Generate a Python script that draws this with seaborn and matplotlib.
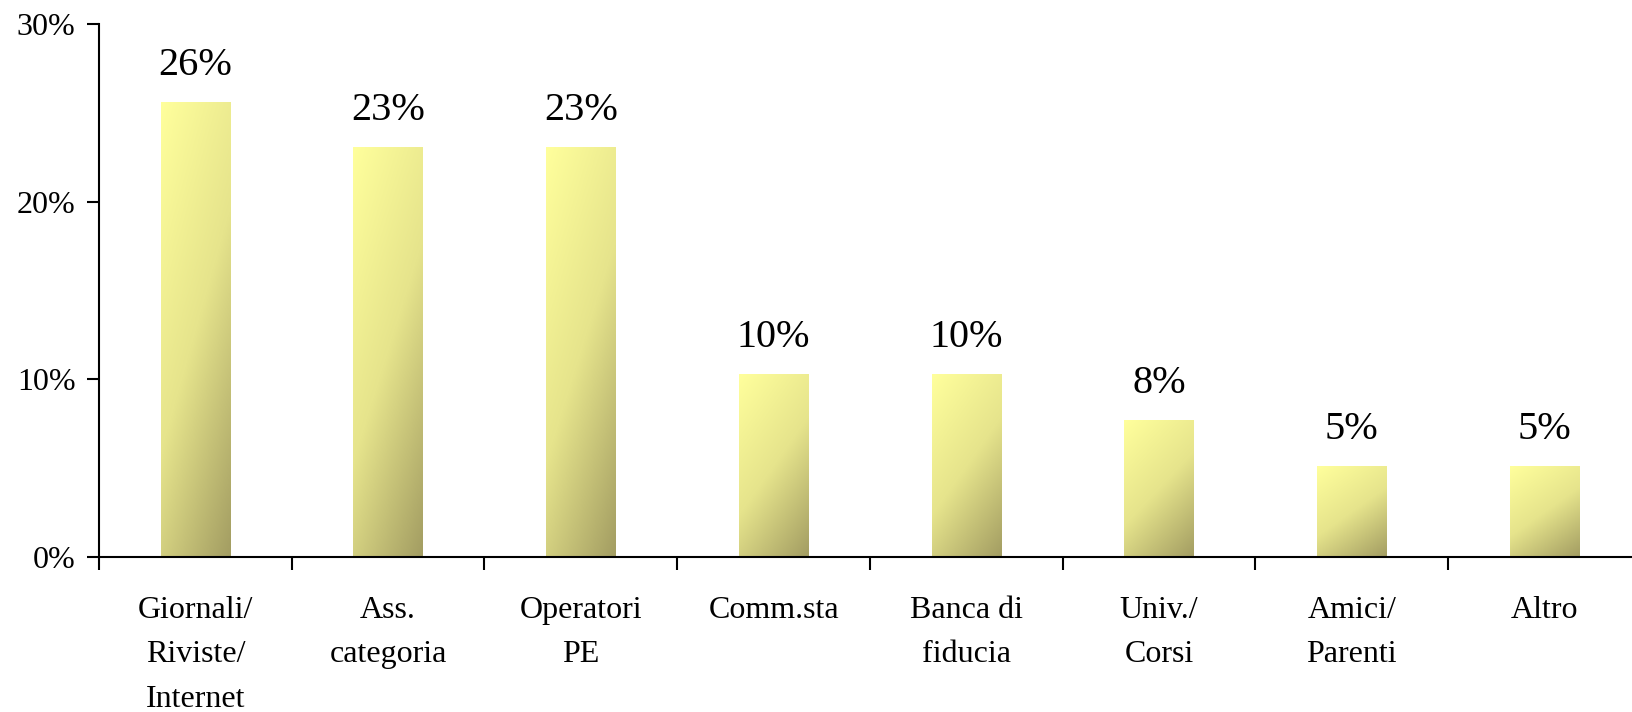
import numpy as np
import pandas as pd
import seaborn as sns
import matplotlib.pyplot as plt
from matplotlib.colors import LinearSegmentedColormap

# dati
categorie = ['Giornali/\nRiviste/\nInternet', 'Ass.\ncategoria', 'Operatori\nPE', 'Comm.sta',
             'Banca di\nfiducia', 'Univ./\nCorsi', 'Amici/\nParenti', 'Altro']
valori = [25.6, 23.1, 23.1, 10.3, 10.3, 7.7, 5.1, 5.1]
etichette = ['26%', '23%', '23%', '10%', '10%', '8%', '5%', '5%']
yticks = [0, 10, 20, 30]

df = pd.DataFrame({'categoria': categorie, 'valore': valori})

sns.set_style('white')
plt.rcParams['font.family'] = ['Liberation Serif', 'DejaVu Serif']
plt.rcParams['text.color'] = 'black'
plt.rcParams['xtick.color'] = 'black'
plt.rcParams['ytick.color'] = 'black'

fig = plt.figure(figsize=(16.33, 7.12), dpi=100)
ax = fig.add_axes([99 / 1633, 1 - 557 / 712, 1542 / 1633, (557 - 24) / 712])

sns.barplot(data=df, x='categoria', y='valore', color='#E8E890', width=0.36, ax=ax,
            edgecolor='none', linewidth=0)

# gradiente diagonale (giallo chiaro in alto a sinistra, oliva in basso a destra)
cmap = LinearSegmentedColormap.from_list('giallo', ['#FFFF9C', '#E6E48C', '#A39D62'])
gx, gy = np.meshgrid(np.linspace(0, 1, 64), np.linspace(0, 1, 256))
grad = 0.35 * gx + 0.65 * gy
for p in ax.patches:
    x0, w, h = p.get_x(), p.get_width(), p.get_height()
    im = ax.imshow(grad, cmap=cmap, extent=(x0, x0 + w, 0, h), origin='upper',
                   aspect='auto', zorder=p.get_zorder() + 0.1, vmin=0, vmax=1)
    im.set_clip_path(p)

for p, lab in zip(ax.patches, etichette):
    ax.annotate(lab, (p.get_x() + p.get_width() / 2, p.get_height()),
                xytext=(0, 13), textcoords='offset points', ha='center', va='bottom',
                fontsize=29, color='black')

ax.set_xlim(-0.5, len(categorie) - 0.5)
ax.set_ylim(0, 30)
ax.set_yticks(yticks)
ax.set_yticklabels([f'{t}%' for t in yticks], fontsize=23)
ax.set_xticks(np.arange(len(categorie)))
ax.set_xticklabels(categorie, fontsize=23, linespacing=1.7, va='top')
ax.tick_params(axis='x', which='major', bottom=True, length=0, pad=28)
ax.set_xticks(np.arange(-0.5, len(categorie)), minor=True)
ax.tick_params(axis='x', which='minor', bottom=True, length=9, width=1.5, direction='out')
ax.tick_params(axis='y', left=True, length=9, width=1.5, direction='out', pad=8)
ax.set_xlabel('')
ax.set_ylabel('')

sns.despine(ax=ax)
for s in ['left', 'bottom']:
    ax.spines[s].set_color('black')
    ax.spines[s].set_linewidth(1.5)

fig.savefig('out.png', dpi=100)
